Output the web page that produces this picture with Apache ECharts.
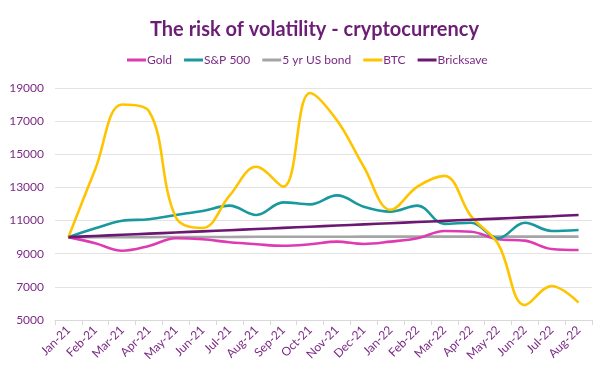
<!DOCTYPE html>
<html><head><meta charset="utf-8">
<script src="https://cdn.jsdelivr.net/npm/echarts@6/dist/echarts.min.js"></script>
<style>html,body{margin:0;padding:0;background:#fff}#c{width:602px;height:374px}</style>
</head><body><div id="c"></div>
<script>
const categories = ['Jan-21','Feb-21','Mar-21','Apr-21','May-21','Jun-21','Jul-21','Aug-21','Sep-21','Oct-21','Nov-21','Dec-21','Jan-22','Feb-22','Mar-22','Apr-22','May-22','Jun-22','Jul-22','Aug-22'];
const gold = [10000,9630,9180,9470,9930,9870,9690,9570,9480,9570,9730,9590,9730,9930,10370,10330,9870,9790,9280,9220];
const sp500 = [10000,10530,10990,11080,11340,11580,11900,11340,12100,11980,12520,11840,11540,11900,10800,10870,9930,10870,10370,10430];
const bond = [10000,10000,10000,10000,10010,10010,10010,10020,10020,10020,10020,10030,10030,10030,10030,10030,10030,10030,10030,10030];
const btc = [10000,14100,18000,17600,11200,10550,12500,14250,13050,18700,17050,14250,11650,13050,13700,11250,9600,5900,7050,6050];
const bricksave = [10000,10070,10140,10210,10280,10350,10420,10490,10560,10630,10700,10770,10840,10910,10980,11050,11120,11190,11260,11340];
const yTicks = {min:5000, max:19000, interval:2000};

const purple = '#7B2A85';
const chart = echarts.init(document.getElementById('c'));
function s(name, data, color, z){
  return {name, type:'line', data, smooth:0.38, symbol:'none', z,
    lineStyle:{color, width:2.6}, itemStyle:{color}};
}
chart.setOption({
  animation:false,
  title:{text:'The risk of volatility - cryptocurrency', left:145, top:15,
    textStyle:{fontFamily:'Lato', fontWeight:'bold', fontSize:20, color:'#6B1E74'}},
  legend:{left:122, top:49, itemWidth:19, itemHeight:3, itemGap:12, icon:'rect',
    textStyle:{fontFamily:'Lato', fontSize:12, color:purple, padding:[0,0,0,-4]},
    data:['Gold','S&P 500','5 yr US bond','BTC','Bricksave']},
  grid:{left:55, right:10, top:88, bottom:54},
  xAxis:{type:'category', data:categories, boundaryGap:true,
    axisLine:{lineStyle:{color:'#D9D9D9'}},
    axisTick:{show:true, length:5, lineStyle:{color:'#D9D9D9'}},
    axisLabel:{rotate:45, fontFamily:'Lato', fontSize:12, color:purple, margin:8, interval:0}},
  yAxis:{type:'value', min:yTicks.min, max:yTicks.max, interval:yTicks.interval,
    axisLine:{show:false}, axisTick:{show:false},
    axisLabel:{fontFamily:'Lato', fontSize:12, color:purple, margin:11, formatter:v=>String(v)},
    splitLine:{lineStyle:{color:'#E3E3E3', width:1}}},
  series:[
    s('Gold', gold, '#DE3BB3', 3),
    s('S&P 500', sp500, '#17999E', 4),
    s('5 yr US bond', bond, '#A5A5A5', 2),
    s('BTC', btc, '#FFC400', 5),
    s('Bricksave', bricksave, '#6C1771', 6)
  ]
});
</script></body></html>
